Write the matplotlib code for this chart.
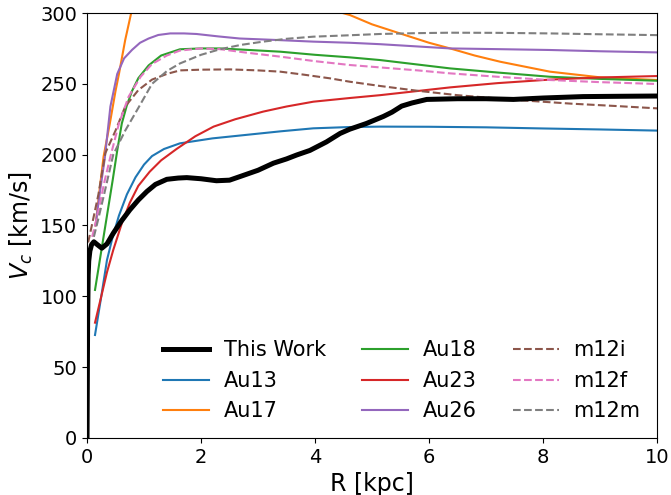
import matplotlib
matplotlib.use("Agg")
import matplotlib.pyplot as plt

# This Work
r_obs = [0, 0.005, 0.01, 0.02, 0.03, 0.05, 0.08, 0.12, 0.18, 0.26, 0.35, 0.46, 0.6, 0.75,
         0.9, 1.05, 1.2, 1.4, 1.6, 1.75, 2.0, 2.27, 2.5, 2.68, 3.0, 3.27, 3.5, 3.68, 3.91,
         4.2, 4.44, 4.61, 4.9, 5.2, 5.35, 5.52, 5.7, 5.96, 6.5, 7.0, 7.48, 8.0, 8.7, 9.3, 10]
v_obs = [0, 40, 80, 115, 125, 132, 136.5, 138.5, 136.5, 134, 137, 144.5, 153, 161,
         168, 174, 179, 182.6, 183.5, 183.8, 183, 181.6, 182, 184.5, 189, 194, 197, 199.8, 203,
         209, 215, 218, 222, 227, 230, 234.3, 236.5, 239, 239.5, 239.5, 239, 240, 241, 241.2, 241.4]

# Auriga
r_au13 = [0.14, 0.25, 0.35, 0.45, 0.56, 0.7, 0.85, 1.0, 1.14, 1.35, 1.63, 2.2, 2.8, 3.4,
          3.97, 4.6, 5.14, 6, 7, 8, 9, 10]
v_au13 = [72.7, 100, 125.6, 142, 157, 172, 184, 193, 199, 204, 208, 211.5, 214, 216.5,
          218.6, 219.5, 219.8, 219.7, 219.3, 218.5, 217.8, 217]

r_au17 = [0.15, 0.22, 0.29, 0.4, 0.5, 0.56, 0.67, 0.78, 0.9, 1.2, 1.6, 2.0, 2.5, 3.0, 3.5,
          4.0, 4.44, 4.61, 5.0, 5.49, 6.0, 6.37, 6.8, 7.25, 8.12, 9, 10]
v_au17 = [150, 175, 198.6, 222, 245, 257, 281, 301, 318, 335, 348, 350, 345, 335, 322,
          310, 300.5, 298.6, 292, 285.6, 279, 275, 270, 265.6, 258.6, 254.6, 252.7]

r_au18 = [0.14, 0.25, 0.35, 0.45, 0.53, 0.61, 0.7, 0.79, 0.9, 1.08, 1.3, 1.63, 2.0, 2.33,
          2.8, 3.39, 4.0, 4.61, 5.14, 6.37, 7.2, 8.12, 9, 10]
v_au18 = [104.5, 132, 157, 182, 203, 222, 235, 245, 254, 263, 270, 274.4, 275, 275,
          274, 272.7, 270.5, 268.7, 266.8, 260.9, 258, 255, 253.5, 252.2]

r_au23 = [0.14, 0.25, 0.35, 0.46, 0.61, 0.75, 0.9, 1.1, 1.3, 1.57, 1.9, 2.22, 2.6, 3.09,
          3.5, 3.97, 4.61, 5.14, 5.7, 6.37, 7.2, 8.12, 9, 10]
v_au23 = [81.4, 100, 117, 132.7, 151.5, 166, 178, 188, 196, 204, 213, 219.8, 225, 230.4,
          234, 237.4, 240, 242, 244.5, 247.5, 250.5, 253, 254.5, 255.5]

r_au26 = [0.15, 0.22, 0.31, 0.41, 0.53, 0.65, 0.79, 0.93, 1.08, 1.25, 1.46, 1.7, 1.92, 2.3,
          2.68, 3.3, 3.97, 4.61, 5.14, 6.37, 7.2, 8.12, 9, 10]
v_au26 = [150, 172, 197, 234, 257, 268, 274, 279, 282, 284.5, 285.6, 285.6, 285.2, 283.5,
          282, 281, 279.8, 279, 278, 275, 274.5, 273.9, 273, 272.2]

# FIRE
r_m12i = [0.02, 0.1, 0.2, 0.32, 0.5, 0.67, 0.9, 1.14, 1.4, 1.63, 2.0, 2.51, 3.0, 3.39, 3.8,
          4.26, 4.61, 5.14, 5.78, 6.5, 7.54, 8.5, 9.3, 10]
v_m12i = [138, 153, 172, 201, 217, 234, 245.6, 253, 257, 259.5, 260, 260.2, 259.5, 258.6, 256.5,
          253.9, 251.5, 248.5, 245.2, 242, 238.6, 236, 234.3, 232.7]

r_m12f = [0.09, 0.2, 0.3, 0.41, 0.56, 0.73, 0.94, 1.14, 1.4, 1.63, 2.0, 2.33, 2.8, 3.39, 4.0,
          4.61, 5.14, 5.8, 6.37, 7.2, 8.12, 9, 10]
v_m12f = [142, 160, 180, 198.6, 222, 241, 255, 264, 270, 273.5, 275, 274.5, 272, 269.2, 266,
          263.3, 261.6, 259.5, 257.4, 255, 252.7, 251.2, 249.9]

r_m12m = [0.12, 0.2, 0.3, 0.46, 0.67, 0.9, 1.14, 1.4, 1.63, 2.0, 2.33, 2.7, 3.09, 3.5, 3.97,
          4.61, 5.14, 5.8, 6.37, 7.2, 8.12, 9, 10]
v_m12m = [142, 155, 172, 200, 217, 233, 250, 259, 264.4, 270.5, 274.4, 277.5, 279.8, 281.8, 283.3,
          284.3, 285.2, 285.8, 286.1, 286, 285.6, 285, 284.4]

fig = plt.figure(figsize=(6.71, 4.95), dpi=100)
ax = fig.add_axes([0.1297, 0.1152, 0.8495, 0.8585])

ax.plot(r_obs, v_obs, color='k', lw=3.6, label='This Work', zorder=3)
ax.plot(r_au13, v_au13, color='C0', lw=1.5, label='Au13')
ax.plot(r_au17, v_au17, color='C1', lw=1.5, label='Au17')
ax.plot(r_au18, v_au18, color='C2', lw=1.5, label='Au18')
ax.plot(r_au23, v_au23, color='C3', lw=1.5, label='Au23')
ax.plot(r_au26, v_au26, color='C4', lw=1.5, label='Au26')
ax.plot(r_m12i, v_m12i, color='C5', lw=1.5, ls='--', label='m12i')
ax.plot(r_m12f, v_m12f, color='C6', lw=1.5, ls='--', label='m12f')
ax.plot(r_m12m, v_m12m, color='C7', lw=1.5, ls='--', label='m12m')

ax.set_xlim(0, 10)
ax.set_ylim(0, 300)
ax.set_xlabel('R [kpc]', fontsize=17)
ax.set_ylabel('$V_c$ [km/s]', fontsize=17)
ax.tick_params(labelsize=14)
ax.legend(loc='lower right', ncol=3, frameon=False, fontsize=15,
          handlelength=2.2, handletextpad=0.7, columnspacing=1.75,
          borderaxespad=0.4)

fig.savefig('out.png', dpi=100)
